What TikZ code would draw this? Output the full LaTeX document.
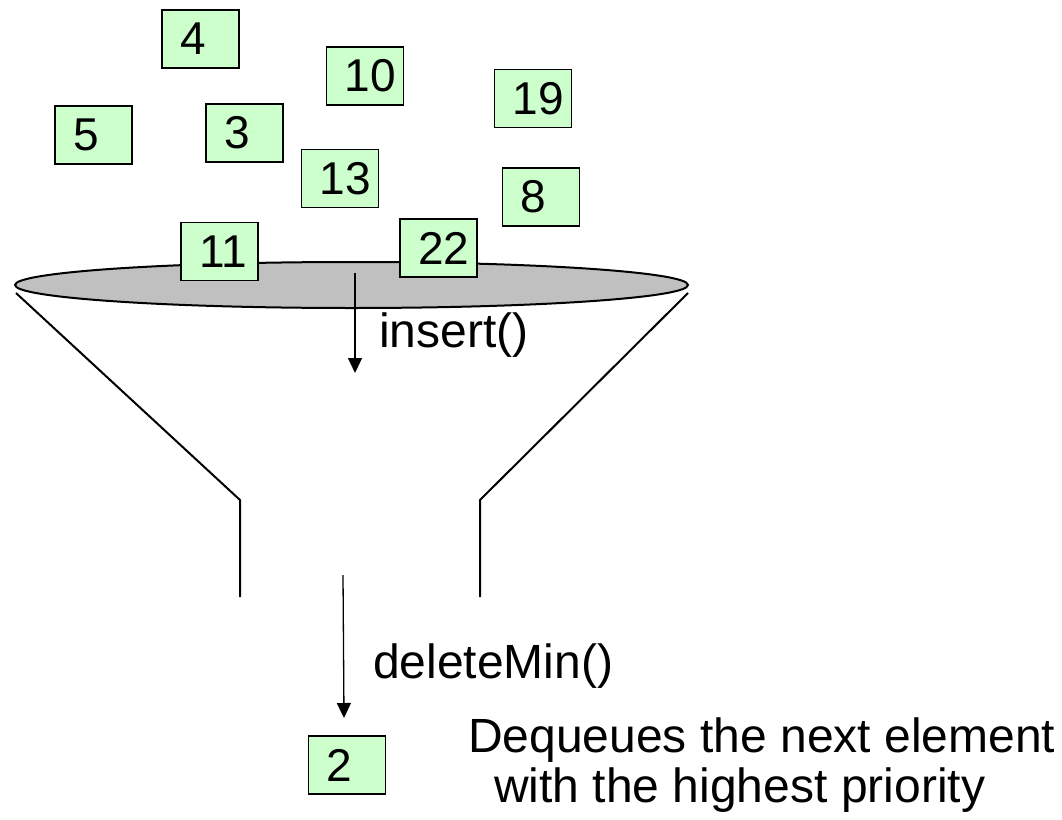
\documentclass[tikz,border=0pt]{standalone}
\usepackage{fontspec}
\setmainfont{Liberation Sans}
\usetikzlibrary{arrows.meta,shapes.geometric}
\definecolor{boxgreen}{RGB}{204,255,204}
\definecolor{rimgrey}{RGB}{192,192,192}
\tikzset{
  numbox/.style={draw, line width=1.5pt, fill=boxgreen, minimum height=58pt,
    inner xsep=18pt, inner ysep=0pt, text width=41pt, align=left,
    font=\fontsize{46}{46}\selectfont},
  label/.style={anchor=base west, inner sep=0pt, font=\fontsize{48}{50}\selectfont},
  funnel/.style={line width=2pt, line join=miter},
  flow/.style={line width=1.3pt, -{Triangle[width=14pt,length=15pt]}},
}
\begin{document}
\begin{tikzpicture}[x=1pt, y=-1pt]
\useasboundingbox (0,0) rectangle (1062,819);

% funnel rim and walls
\node[ellipse, draw, line width=2pt, fill=rimgrey, minimum width=673pt,
      minimum height=46pt, inner sep=0pt] (rim) at (351.5,285) {};
\draw[funnel] (16,293) -- (240,500) -- (240,597);
\draw[funnel] (688,293) -- (480,500) -- (480,597);

% elements waiting to be inserted
\node[numbox] (n4)  at (200.5,39)  {4};
\node[numbox] (n10) at (365,76)    {10};
\node[numbox] (n19) at (533,98.5)  {19};
\node[numbox] (n5)  at (93.5,135)  {5};
\node[numbox] (n3)  at (244.5,133) {3};
\node[numbox] (n13) at (340,178.5) {13};
\node[numbox] (n8)  at (541,197)   {8};
\node[numbox] (n11) at (219.5,251.5) {11};
\node[numbox] (n22) at (438.5,248) {22};

% insert operation
\coordinate (insTop) at (355,273);
\coordinate (insEnd) at (355,373);
\draw[flow] (insTop) -- (insEnd);
\node[label] (ins) at (379,347) {insert()};

% deleteMin operation
\coordinate (delTop) at (343,575);
\coordinate (delEnd) at (344,718);
\draw[flow] (delTop) -- (delEnd);
\node[label] (del) at (373,678) {deleteMin()};

% dequeued element
\node[numbox] (n2) at (347,765) {2};

\node[label] (note1) at (468,752) {Dequeues the next element};
\node[label] (note2) at (494,802) {with the highest priority};
\end{tikzpicture}
\end{document}
